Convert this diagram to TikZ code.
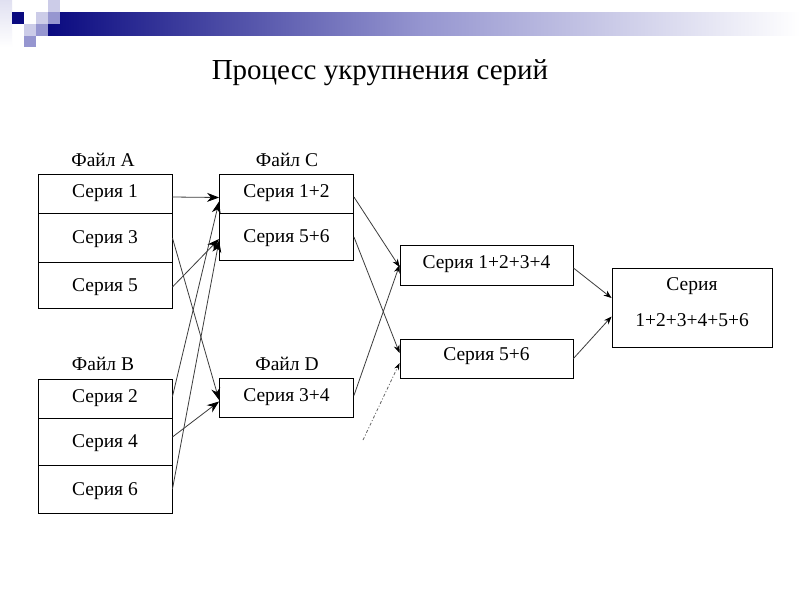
\documentclass[tikz,border=0pt]{standalone}
\usepackage{fontspec}
\setmainfont{Liberation Serif}
\usetikzlibrary{arrows.meta,calc}
\definecolor{navyd}{RGB}{10,10,128}
\definecolor{lavl}{RGB}{204,204,232}
\definecolor{lavm}{RGB}{150,150,208}
\definecolor{lineg}{RGB}{60,60,60}
\begin{document}
\begin{tikzpicture}[x=1pt,y=-1pt,
  box/.style={draw=black,line width=0.9pt,rectangle,inner sep=0pt,
    font=\fontsize{19.5}{23}\selectfont,text height=12.9pt,text depth=0pt},
  lbl/.style={font=\fontsize{19.5}{23}\selectfont,inner sep=0pt,text height=12.9pt,text depth=0pt},
  big/.style={line width=0.8pt,draw=lineg,-{Stealth[length=12pt,width=9pt,black]}},
  small/.style={line width=0.8pt,draw=lineg,-{Stealth[length=8pt,width=6pt,black]}},
  dotl/.style={line width=0.8pt,draw=lineg!80,dash pattern=on 3pt off 2pt on 1pt off 2pt,-{Stealth[length=7pt,width=5pt,black]}}
]
\useasboundingbox (0,0) rectangle (800,600);
\fill[white] (0,0) rectangle (800,600);
% header decoration
\shade[left color=navyd,right color=white,middle color=lavm] (48,12) rectangle (800,35);
\shade[top color=lavl!60,bottom color=white] (0,0) rectangle (12,47);
\fill[navyd] (12,12) rectangle (24,24);
\fill[lavl] (48,0) rectangle (60,12);
\fill[lavl] (36,12) rectangle (48,24);
\fill[lavm] (48,12) rectangle (60,24);
\fill[lavl] (24,24) rectangle (36,36);
\fill[lavm] (36,24) rectangle (48,36);
\fill[lavm] (24,36) rectangle (36,47);
% title
\node[font=\fontsize{29}{34}\selectfont,inner sep=0pt,text height=19.2pt,text depth=0pt] (title) at (380,69.5) {Процесс укрупнения серий};
% file labels
\node[lbl] (lA) at (103,160) {Файл A};
\node[lbl] (lC) at (287,160) {Файл C};
\node[lbl] (lB) at (103,364) {Файл B};
\node[lbl] (lD) at (287,364) {Файл D};
% file A
\node[box,minimum width=134,minimum height=39,text depth=5pt] (A1) at (105,193.5) {Серия 1};
\node[box,minimum width=134,minimum height=49] (A3) at (105,237.5) {Серия 3};
\node[box,minimum width=134,minimum height=46] (A5) at (105,285) {Серия 5};
% file B
\node[box,minimum width=134,minimum height=39,text depth=5pt] (B2) at (105,398.5) {Серия 2};
\node[box,minimum width=134,minimum height=47] (B4) at (105,441.5) {Серия 4};
\node[box,minimum width=134,minimum height=48] (B6) at (105,489) {Серия 6};
% file C
\node[box,minimum width=134,minimum height=39,text depth=5pt] (C1) at (286.5,193.5) {Серия 1+2};
\node[box,minimum width=134,minimum height=47] (C2) at (286.5,236.5) {Серия 5+6};
% file D
\node[box,minimum width=134,minimum height=39,text depth=4pt] (D) at (286.5,397.5) {Серия 3+4};
% merged
\node[box,minimum width=173,minimum height=40,text depth=6pt] (S1) at (486.5,265) {Серия 1+2+3+4};
\node[box,minimum width=173,minimum height=39,text depth=9pt] (S2) at (486.5,358.5) {Серия 5+6};
\node[box,minimum width=160,minimum height=79] (F) at (692,307.5) {};
\node[lbl] (F1) at (692,284) {Серия};
\node[lbl] (F2) at (692,320) {1+2+3+4+5+6};
% stage 1 arrows
\draw[big] ($(A1.east)+(0,3.5)$) -- ($(C1.west)+(0,4)$);
\draw[big] ($(B2.east)+(0,-2)$) -- ($(C1.west)+(0,8)$);
\draw[big] ($(A5.east)+(0,2)$) -- ($(C2.west)+(0,2.5)$);
\draw[big] ($(B6.east)+(0,0)$) -- ($(C2.west)+(0,4)$);
\draw[big] ($(A3.east)+(0,0.5)$) -- ($(D.west)+(0,2.5)$);
\draw[big] ($(B4.east)+(0,-4.5)$) -- ($(D.west)+(0,4)$);
% stage 2 arrows
\draw[small] ($(C1.east)+(0,3.5)$) -- ($(S1.west)+(0,2)$);
\draw[small] ($(C2.east)+(0,0.5)$) -- ($(S2.west)+(0,-5.5)$);
\draw[small] ($(D.east)+(0,-2)$) -- ($(S1.west)+(0,0)$);
\coordinate (dstart) at (363,440);
\draw[dotl] (dstart) -- ($(S2.west)+(0,4.5)$);
% stage 3 arrows
\draw[small] ($(S1.east)+(0,3)$) -- ($(F.west)+(0,-9.5)$);
\draw[small] ($(S2.east)+(0,0)$) -- ($(F.west)+(0,9)$);
\end{tikzpicture}
\end{document}
